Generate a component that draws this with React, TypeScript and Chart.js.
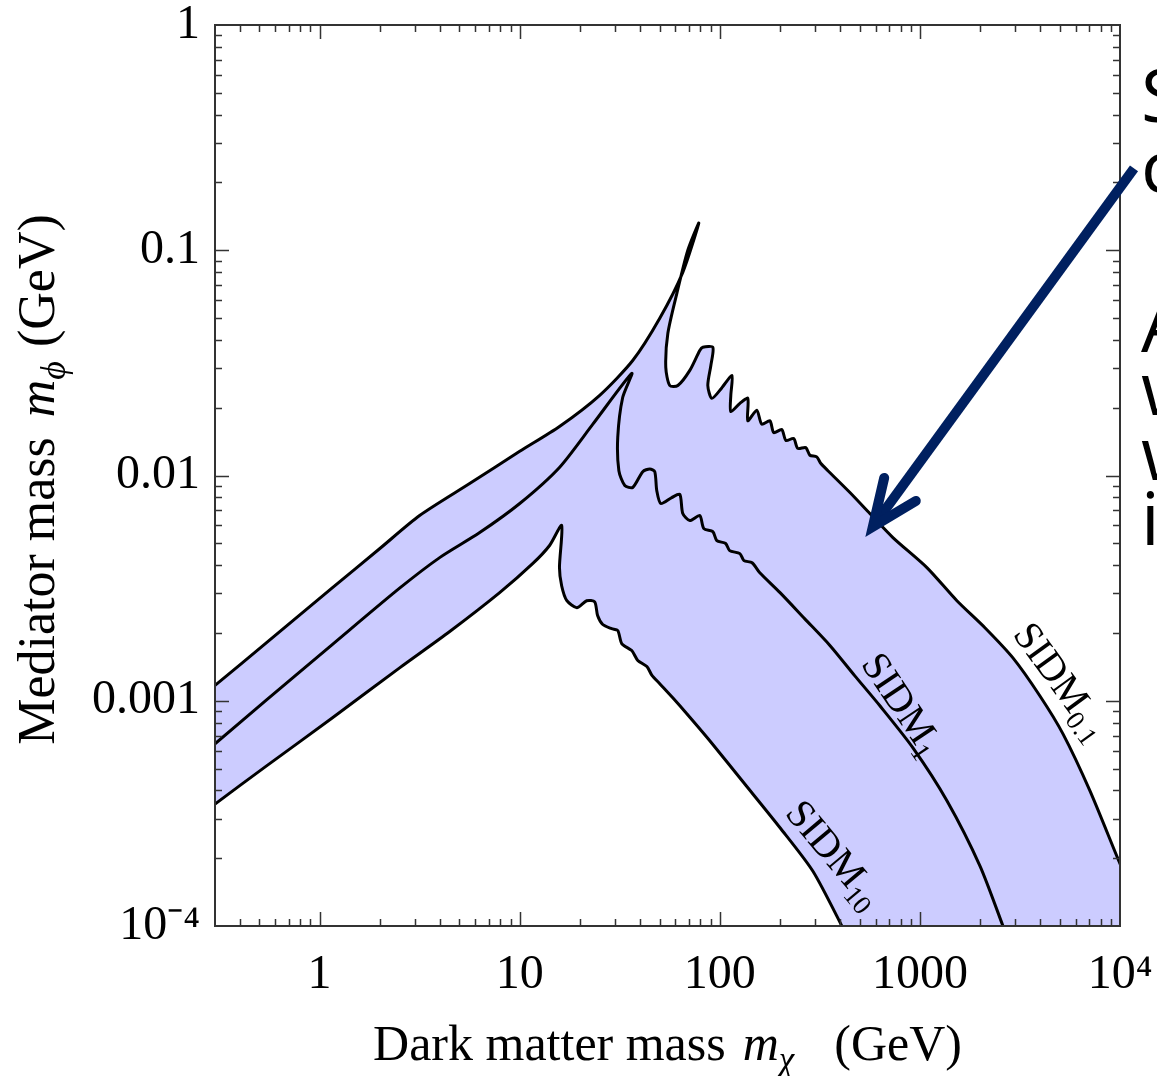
import React, { useEffect, useRef } from 'react';
import { Chart, registerables } from 'chart.js';

Chart.register(...registerables);

// ---------- data (GeV) ----------
const sidm01X = [0.3, 0.543, 1.16, 2.0, 3.16, 5.62, 10, 15.8, 25.1, 36.7, 50.1, 65.3, 78.5,
  69.2, 61.0, 55.0, 53.7, 56.2, 61.7, 70.8, 79.4, 82.2, 92.3, 90.2, 87.1, 91.2, 102, 115,
  113.5, 113.5, 126, 138, 138, 153, 162, 178, 186, 204, 214, 234, 245, 269, 282, 305, 320,
  347, 447, 562, 733, 1084, 1531, 2113, 2917, 3981, 5188, 7079, 10000, 11500];
const sidm01Y = [1.17e-3, 1.81e-3, 3.18e-3, 4.74e-3, 6.64e-3, 9.21e-3, 0.0128, 0.0165, 0.0227, 0.0324, 0.0499, 0.0798, 0.132,
  0.1, 0.0644, 0.0428, 0.0302, 0.0251, 0.0251, 0.0293, 0.0359, 0.0371, 0.0371, 0.0308, 0.0251, 0.022, 0.0244, 0.0278,
  0.0227, 0.0192, 0.0209, 0.022, 0.0175, 0.0195, 0.0169, 0.0175, 0.0155, 0.016, 0.0143, 0.0146, 0.0132, 0.0133, 0.0123, 0.0121, 0.0113,
  0.0105, 8.4e-3, 6.78e-3, 5.3e-3, 3.9e-3, 2.78e-3, 2.11e-3, 1.55e-3, 1.05e-3, 7.13e-4, 3.98e-4, 1.89e-4, 1.43e-4];

const sidm1X = [0.3, 0.543, 1.16, 2.51, 3.98, 6.31, 10, 15.8, 23.2, 36.3,
  32.7, 30.9, 31.3, 33.5, 36.7, 41.2, 44.7, 47.3, 48.4, 50.7, 57.5, 63.1, 65.3, 70.8, 79.4,
  83.2, 92.3, 96.6, 107, 112, 126, 132, 145, 158, 200, 266, 355, 473, 631, 923, 1365, 1995, 2600, 2884];
const sidm1Y = [6.44e-4, 1.01e-3, 1.78e-3, 3.16e-3, 4.32e-3, 5.58e-3, 7.51e-3, 0.01086, 0.0169, 0.0284,
  0.0222, 0.0148, 0.0105, 9.03e-3, 8.85e-3, 0.0104, 0.0107, 0.0104, 8.58e-3, 7.51e-3, 7.98e-3, 8.24e-3, 6.78e-3, 6.31e-3, 6.64e-3,
  5.81e-3, 5.64e-3, 5.14e-3, 4.99e-3, 4.64e-3, 4.5e-3, 4.19e-3, 4.1e-3, 3.71e-3, 3.02e-3, 2.31e-3, 1.76e-3, 1.29e-3, 9.5e-4, 6.18e-4, 3.6e-4, 1.85e-4, 1.0e-4, 7.7e-5];

const sidm10X = [0.3, 0.543, 1.16, 2.51, 4.47, 7.94, 11.6, 14.1, 16.2,
  15.8, 16.2, 17.2, 19.3, 21.6, 23.7, 24.5, 26.0, 28.8, 30.9, 32.4, 36.3, 38.9, 43.2, 45.7, 50.1,
  58.2, 68.4, 89.1, 133, 200, 292, 412, 447];
const sidm10Y = [3.48e-4, 5.14e-4, 8.4e-4, 1.4e-3, 2.03e-3, 3.02e-3, 4.06e-3, 4.89e-3, 6.0e-3,
  3.9e-3, 3.24e-3, 2.78e-3, 2.59e-3, 2.78e-3, 2.75e-3, 2.39e-3, 2.18e-3, 2.09e-3, 2.05e-3, 1.79e-3, 1.67e-3, 1.51e-3, 1.42e-3, 1.3e-3, 1.19e-3,
  1.03e-3, 8.75e-4, 6.64e-4, 4.28e-4, 2.73e-4, 1.75e-4, 9.8e-5, 8.4e-5];

const xRange = [0.3, 10000];
const yRange = [1e-4, 1];
const xTickValues = [1, 10, 100, 1000, 10000];
const xTickLabels = ['1', '10', '100', '1000', '10⁴'];
const yTickValues = [1e-4, 1e-3, 1e-2, 0.1, 1];
const yTickLabels = ['10⁻⁴', '0.001', '0.01', '0.1', '1'];

// band closure below the x axis (outside the plot, hidden by clipping)
const bandCornerX = [11500, 500];
const bandCornerY = [6e-5, 6e-5];

const curveLabelBase = ['SIDM', 'SIDM', 'SIDM'];
const curveLabelSub = ['0.1', '1', '10'];
const curveLabelX = [5129, 822, 376];
const curveLabelY = [1.227e-3, 9.7e-4, 2.09e-4];
const curveLabelAngle = [54, 56, 50];

const arrowTip = { x: 582, y: 5.93e-3 };
const arrowTail = { x: 11749, y: 0.231 };

const sideLetters = ['S', 'c', 'A', 'w', 'w', 'i'];
const sideBaselines = [122, 193, 352, 415, 480, 545];

// ---------- styles ----------
const SERIF = '"Liberation Serif", "Times New Roman", serif';
const SANS = '"Open Sans", "Noto Sans", sans-serif';
const BAND = '#ccccff';
const FRAME = '#333333';
const NAVY = '#002060';
const TENSION = 0.25;

type Part = { text: string; italic?: boolean; sub?: boolean; gap?: number };
const xTitleParts: Part[] = [
  { text: 'Dark matter mass' },
  { text: 'm', italic: true, gap: 17 },
  { text: 'χ', italic: true, sub: true },
  { text: '(GeV)', gap: 40 },
];
const yTitleParts: Part[] = [
  { text: 'Mediator mass' },
  { text: 'm', italic: true, gap: 20 },
  { text: 'ϕ', italic: true, sub: true },
  { text: '(GeV)', gap: 14 },
];

function toPoints(xs: number[], ys: number[]) {
  return xs.map((x, i) => ({ x, y: ys[i] }));
}

function lookup(values: number[], labels: string[], v: number) {
  for (let i = 0; i < values.length; i++) {
    if (Math.abs(Math.log10(values[i]) - Math.log10(v)) < 1e-6) return labels[i];
  }
  return '';
}

function drawParts(ctx: CanvasRenderingContext2D, parts: Part[], size: number) {
  const fontOf = (p: Part) => `${p.italic ? 'italic ' : ''}${p.sub ? Math.round(size * 0.7) : size}px ${SERIF}`;
  let total = 0;
  const widths = parts.map((p) => {
    ctx.font = fontOf(p);
    const w = ctx.measureText(p.text).width;
    total += w + (p.gap || 0);
    return w;
  });
  let u = -total / 2;
  ctx.textAlign = 'left';
  ctx.textBaseline = 'alphabetic';
  parts.forEach((p, i) => {
    u += p.gap || 0;
    ctx.font = fontOf(p);
    ctx.fillText(p.text, u, p.sub ? size * 0.22 : 0);
    u += widths[i];
  });
}

const decorPlugin = {
  id: 'decor',
  afterDraw(chart: any) {
    const { ctx, chartArea: a, scales } = chart;
    const xs = scales.x;
    const ys = scales.y;
    ctx.save();

    // frame
    ctx.strokeStyle = FRAME;
    ctx.lineWidth = 2;
    ctx.strokeRect(a.left, a.top, a.right - a.left, a.bottom - a.top);

    // inward log ticks on all four sides
    ctx.lineWidth = 1.5;
    ctx.beginPath();
    for (let e = Math.floor(Math.log10(xs.min)); e <= Math.ceil(Math.log10(xs.max)); e++) {
      for (let m = 1; m <= 9; m++) {
        const v = m * Math.pow(10, e);
        if (v <= xs.min * 1.001 || v >= xs.max * 0.999) continue;
        const p = Math.round(xs.getPixelForValue(v)) + 0.5;
        const len = m === 1 ? 14 : 7;
        ctx.moveTo(p, a.bottom); ctx.lineTo(p, a.bottom - len);
        ctx.moveTo(p, a.top); ctx.lineTo(p, a.top + len);
      }
    }
    for (let e = Math.floor(Math.log10(ys.min)); e <= Math.ceil(Math.log10(ys.max)); e++) {
      for (let m = 1; m <= 9; m++) {
        const v = m * Math.pow(10, e);
        if (v <= ys.min * 1.001 || v >= ys.max * 0.999) continue;
        const p = Math.round(ys.getPixelForValue(v)) + 0.5;
        const len = m === 1 ? 14 : 7;
        ctx.moveTo(a.left, p); ctx.lineTo(a.left + len, p);
        ctx.moveTo(a.right, p); ctx.lineTo(a.right - len, p);
      }
    }
    ctx.stroke();

    // curve labels
    ctx.fillStyle = '#000';
    for (let i = 0; i < curveLabelBase.length; i++) {
      const cx = xs.getPixelForValue(curveLabelX[i]);
      const cy = ys.getPixelForValue(curveLabelY[i]);
      const size = 40;
      ctx.save();
      ctx.translate(cx, cy);
      ctx.rotate((curveLabelAngle[i] * Math.PI) / 180);
      ctx.font = `${size}px ${SERIF}`;
      const w1 = ctx.measureText(curveLabelBase[i]).width;
      ctx.font = `${Math.round(size * 0.68)}px ${SERIF}`;
      const w2 = ctx.measureText(curveLabelSub[i]).width;
      const start = -(w1 + w2) / 2;
      ctx.textAlign = 'left';
      ctx.textBaseline = 'alphabetic';
      ctx.font = `${size}px ${SERIF}`;
      ctx.fillText(curveLabelBase[i], start, size * 0.33);
      ctx.font = `${Math.round(size * 0.68)}px ${SERIF}`;
      ctx.fillText(curveLabelSub[i], start + w1, size * 0.33 + size * 0.2);
      ctx.restore();
    }

    // axis titles
    ctx.fillStyle = '#000';
    ctx.save();
    ctx.translate((a.left + a.right) / 2, 1060);
    drawParts(ctx, xTitleParts, 50);
    ctx.restore();
    ctx.save();
    ctx.translate(54, (a.top + a.bottom) / 2 + 4);
    ctx.rotate(-Math.PI / 2);
    drawParts(ctx, yTitleParts, 52);
    ctx.restore();

    // arrow annotation
    const tx = xs.getPixelForValue(arrowTip.x);
    const ty = ys.getPixelForValue(arrowTip.y);
    const sx = xs.getPixelForValue(arrowTail.x);
    const sy = ys.getPixelForValue(arrowTail.y);
    const ang = Math.atan2(sy - ty, sx - tx);
    ctx.strokeStyle = NAVY;
    ctx.lineWidth = 10;
    ctx.lineCap = 'butt';
    ctx.beginPath();
    ctx.moveTo(sx, sy);
    ctx.lineTo(tx + Math.cos(ang) * 4, ty + Math.sin(ang) * 4);
    ctx.stroke();
    const half = (23 * Math.PI) / 180;
    const armLen = 50;
    ctx.lineCap = 'round';
    ctx.lineJoin = 'miter';
    ctx.miterLimit = 10;
    ctx.beginPath();
    ctx.moveTo(tx + Math.cos(ang - half) * armLen, ty + Math.sin(ang - half) * armLen);
    ctx.lineTo(tx, ty);
    ctx.lineTo(tx + Math.cos(ang + half) * armLen, ty + Math.sin(ang + half) * armLen);
    ctx.stroke();

    // clipped slide text at the right edge
    ctx.fillStyle = '#000';
    ctx.font = `74px ${SANS}`;
    ctx.textAlign = 'left';
    ctx.textBaseline = 'alphabetic';
    sideLetters.forEach((t, i) => ctx.fillText(t, 1141, sideBaselines[i]));

    ctx.restore();
  },
};

export default function App() {
  const ref = useRef<HTMLCanvasElement>(null);

  useEffect(() => {
    const canvas = ref.current;
    if (!canvas) return;
    const top = toPoints(sidm01X, sidm01Y);
    const mid = toPoints(sidm1X, sidm1Y);
    const bot = toPoints(sidm10X, sidm10Y);
    const band = [...top, ...toPoints(bandCornerX, bandCornerY), ...bot.slice().reverse()];

    const lineStyle = {
      borderColor: '#000',
      borderWidth: 3,
      pointRadius: 0,
      fill: false,
      tension: TENSION,
      borderJoinStyle: 'round' as const,
      borderCapStyle: 'round' as const,
    };

    const chart = new Chart(canvas, {
      type: 'line',
      data: {
        datasets: [
          { data: mid, ...lineStyle, order: 1 },
          { data: top, ...lineStyle, order: 1 },
          { data: bot, ...lineStyle, order: 1 },
          {
            data: band,
            fill: 'shape',
            backgroundColor: BAND,
            borderColor: 'rgba(0,0,0,0)',
            borderWidth: 0,
            pointRadius: 0,
            tension: TENSION,
            order: 5,
          },
        ],
      },
      options: {
        responsive: false,
        animation: false,
        devicePixelRatio: 1,
        elements: { line: { capBezierPoints: false } },
        layout: { padding: { left: 0, right: 37, top: 25, bottom: 0 } },
        plugins: { legend: { display: false }, tooltip: { enabled: false } },
        scales: {
          x: {
            type: 'logarithmic',
            min: xRange[0],
            max: xRange[1],
            grid: { display: false, drawTicks: false },
            border: { display: false },
            ticks: {
              color: '#000',
              font: { family: SERIF, size: 48 },
              padding: 21,
              maxRotation: 0,
              autoSkip: false,
              callback: (v: any) => lookup(xTickValues, xTickLabels, Number(v)),
            },
            afterBuildTicks: (s: any) => {
              s.ticks = xTickValues.map((v) => ({ value: v }));
            },
            afterFit: (s: any) => {
              s.height = 150;
              s.paddingLeft = 0;
              s.paddingRight = 0;
            },
          },
          y: {
            type: 'logarithmic',
            min: yRange[0],
            max: yRange[1],
            grid: { display: false, drawTicks: false },
            border: { display: false },
            ticks: {
              color: '#000',
              font: { family: SERIF, size: 48 },
              padding: 15,
              autoSkip: false,
              callback: (v: any) => lookup(yTickValues, yTickLabels, Number(v)),
            },
            afterBuildTicks: (s: any) => {
              s.ticks = yTickValues.map((v) => ({ value: v }));
            },
            afterFit: (s: any) => {
              s.width = 215;
              s.paddingTop = 0;
              s.paddingBottom = 0;
            },
          },
        },
      },
      plugins: [decorPlugin],
    } as any);

    return () => chart.destroy();
  }, []);

  return (
    <div style={{ position: 'absolute', left: 0, top: 0, width: 1157, height: 1076, background: '#fff', overflow: 'hidden' }}>
      <canvas ref={ref} width={1157} height={1076} style={{ display: 'block' }} />
    </div>
  );
}
